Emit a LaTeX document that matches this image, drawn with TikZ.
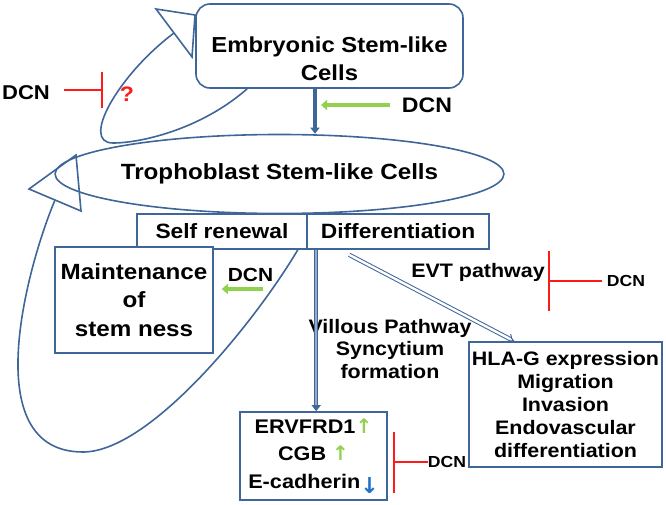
\documentclass[tikz,border=0pt]{standalone}
\usepackage{fontspec}
\setmainfont{Liberation Sans}[FakeStretch=1.1]
\newfontfamily\arrowfont{DejaVu Sans}
\usepackage{xcolor}
\usetikzlibrary{arrows.meta,shapes.geometric}

\definecolor{lineblue}{HTML}{3F6698}
\definecolor{leafgreen}{HTML}{92D050}
\definecolor{inhibred}{HTML}{FF1A1A}
\definecolor{downblue}{HTML}{1F72C4}

\newcommand{\fsz}[2]{\fontsize{#1}{#2}\selectfont\bfseries}
\newcommand{\uparr}{{\arrowfont\fontsize{20}{20}\selectfont\bfseries\textcolor{leafgreen}{↑}}}
\newcommand{\downarr}{\raisebox{-5pt}{\arrowfont\fontsize{22}{22}\selectfont\bfseries\textcolor{downblue}{↓}}}

\begin{document}
\begin{tikzpicture}[x=1pt,y=-1pt,>=Stealth,
  cellbox/.style={draw=lineblue,line width=1.6pt,inner sep=0pt,align=center},
  loopline/.style={draw=lineblue,line width=1.6pt},
  thickdown/.style={draw=lineblue,line width=3.5pt,-{Triangle[length=6pt,width=9pt]}},
  greenarr/.style={draw=leafgreen,line width=4.5pt,-{Triangle[length=6pt,width=10pt]}},
  inhib/.style={draw=inhibred,line width=2pt},
  lbl/.style={inner sep=0pt,align=center}]
\useasboundingbox (0,0) rectangle (666,505);

  % cell populations
  \node[cellbox,rounded corners=14pt,minimum width=267pt,minimum height=84pt,
    label={[lbl,yshift=-12.5pt,font=\fsz{21.7}{28}]center:{Embryonic Stem-like\\Cells}}]
    (esc) at (329.5,46) {};
  \node[cellbox,ellipse,minimum width=396pt,minimum height=79pt,font=\fsz{22}{26}]
    (tsc) at (279.5,174) {Trophoblast Stem-like Cells};
  \node[cellbox,minimum width=170pt,minimum height=35pt,font=\fsz{20.7}{24}]
    (sr) at (222,231.5) {Self renewal};
  \node[cellbox,minimum width=182pt,minimum height=35pt,font=\fsz{20.7}{24}]
    (diff) at (398,231.5) {Differentiation};
  \node[cellbox,fill=white,minimum width=158pt,minimum height=106pt,font=\fsz{22}{28.5}]
    (maint) at (134,300) {Maintenance\\of\\stem ness};
  \node[cellbox,minimum width=147pt,minimum height=88pt,font=\fsz{19.7}{27.5}]
    (erv) at (313.5,456) {ERVFRD1\uparr\\CGB \uparr\\E-cadherin\downarr};
  \node[cellbox,minimum width=193pt,minimum height=125pt,font=\fsz{19.5}{23}]
    (hla) at (565.5,404.5) {HLA-G expression\\Migration\\Invasion\\Endovascular\\differentiation};

  % labels
  \node[lbl,font=\fsz{20}{24}] (dcnL) at (26,93) {DCN};
  \node[lbl,font=\fsz{21}{24},text=inhibred] (qm) at (127,94) {?};
  \node[lbl,font=\fsz{21}{24}] (dcnA) at (427,105) {DCN};
  \node[lbl,font=\fsz{19}{24}] (dcnM) at (250.5,275) {DCN};
  \node[lbl,font=\fsz{19.5}{24}] (evt) at (478,272) {EVT pathway};
  \node[lbl,font=\fsz{16}{20}] (dcnE) at (626,281) {DCN};
  \node[lbl,font=\fsz{19.5}{22.5}] (vil) at (390,349) {Villous Pathway\\Syncytium\\formation};
  \node[lbl,font=\fsz{16}{20}] (dcnR) at (447,462) {DCN};

  % free ends
  \coordinate (baseESC) at (174,33);
  \coordinate (baseTSC) at (55,200);
  \coordinate (gA) at (321,105);
  \coordinate (gM) at (263,289);
  \coordinate (barL) at (103,90);
  \coordinate (barE) at (548,281);
  \coordinate (barR) at (393,462);

  % main flow
  \draw[thickdown] ([xshift=-14.5pt]esc.south) -- ([xshift=-14.5pt]esc.south |- tsc.north);
  \draw[thickdown,line width=1.2pt,double=lineblue!55,double distance=1.6pt]
    ([xshift=10pt]diff.south west) -- ([xshift=10pt]diff.south west |- erv.north);
  \draw[draw=lineblue,line width=1pt,double=white,double distance=2.4pt,-{Implies}]
    ([xshift=43pt,yshift=-5pt]diff.south west) -- ([xshift=46pt]hla.north west);

  % feedback loops, open triangle heads
  \draw[loopline]
    ([xshift=52pt]esc.south west) .. controls (200,130) and (140,143) .. (113,143)
    .. controls (80,143) and (118,75) .. (baseESC);
  \draw[loopline] (156,9) -- (195,15) -- (192,57) -- cycle;
  \draw[loopline]
    ([xshift=-10pt]sr.south east) .. controls (255,322) and (150,452) .. (83,452)
    .. controls (-25,452) and (28,264) .. (baseTSC);
  \draw[loopline] (29,189) -- (76,155) -- (81,211) -- cycle;

  % DCN effects
  \draw[greenarr,shorten <=12pt] (dcnA.west) -- (gA);
  \draw[greenarr,shorten >=8pt] (gM) -- (maint.east |- gM);
  \draw[inhib,shorten <=14pt,-{Bar[width=36pt]}] (dcnL.east |- barL) -- (barL);
  \draw[inhib,shorten <=5pt,-{Bar[width=60pt]}] (dcnE.west) -- (barE);
  \draw[inhib,-{Bar[width=61pt]}] (dcnR.west) -- (barR);
\end{tikzpicture}
\end{document}
